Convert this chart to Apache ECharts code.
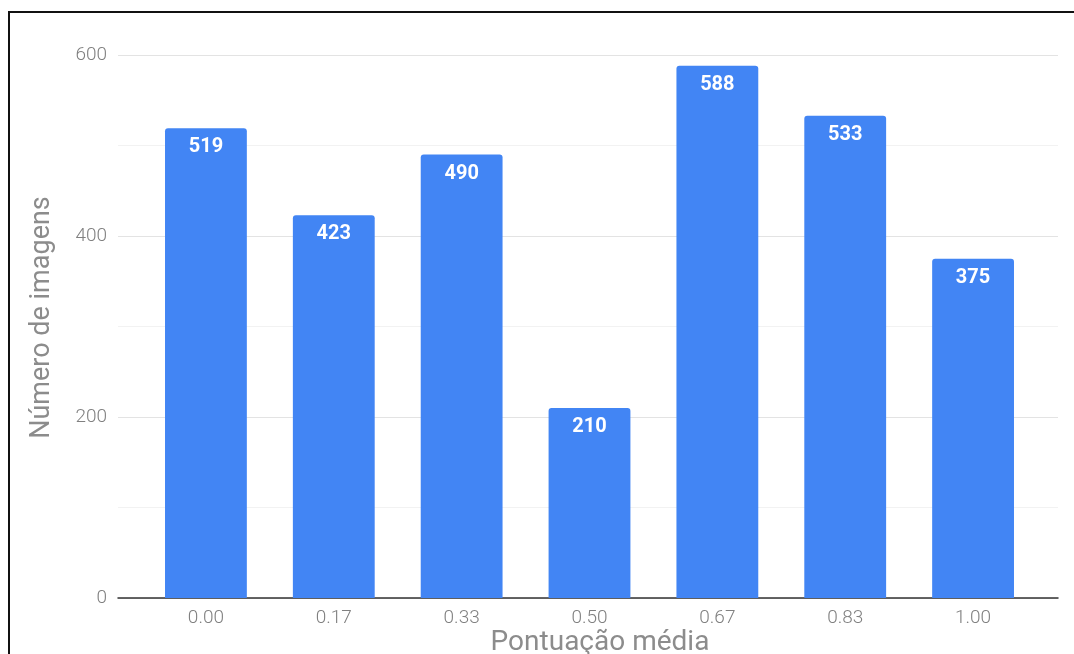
<!DOCTYPE html>
<html>
<head>
<meta charset="utf-8">
<script src="https://cdn.jsdelivr.net/npm/echarts@6/dist/echarts.min.js"></script>
<style>
  html, body { margin: 0; padding: 0; background: #fff; }
  #chart { width: 1074px; height: 654px; }
</style>
</head>
<body>
<div id="chart"></div>
<script>
// Average score buckets and image counts
const categories = ['0.00', '0.17', '0.33', '0.50', '0.67', '0.83', '1.00'];
const imageCounts = [519, 423, 490, 210, 588, 533, 375];
const yTicks = [0, 200, 400, 600];

const chart = echarts.init(document.getElementById('chart'), null, { renderer: 'canvas' });

const textGray = '#808080';
const fontFamily = 'Roboto, Arial, sans-serif';

const option = {
  animation: false,
  backgroundColor: '#ffffff',
  textStyle: { fontFamily: fontFamily },
  graphic: [{
    type: 'rect',
    shape: { x: 9, y: 12, width: 1200, height: 800 },
    style: { fill: 'none', stroke: '#111111', lineWidth: 2 },
    silent: true,
    z: 100
  }],
  grid: [
    // wide grid: gridlines, y labels, baseline
    { left: 118, right: 16, top: 55, bottom: 56, containLabel: false, outerBoundsMode: 'none' },
    // inner grid: the bars and their categories
    { left: 142, right: 37, top: 55, bottom: 56, containLabel: false, outerBoundsMode: 'none' }
  ],
  xAxis: [
    {
      gridIndex: 0,
      type: 'value',
      min: 0, max: 1,
      axisLabel: { show: false },
      axisTick: { show: false },
      splitLine: { show: false },
      axisLine: { show: true, lineStyle: { color: '#333333', width: 1.5 } },
      name: 'Pontuação média',
      nameLocation: 'middle',
      nameGap: 31,
      nameTextStyle: { fontSize: 28, color: '#8c8c8c', fontFamily: fontFamily, padding: [0, 0, 0, 24] }
    },
    {
      gridIndex: 1,
      type: 'category',
      data: categories,
      axisLine: { show: false },
      axisTick: { show: false },
      axisLabel: { fontSize: 19, color: textGray, margin: 11, fontWeight: 300, fontFamily: fontFamily }
    }
  ],
  yAxis: [
    {
      gridIndex: 0,
      type: 'value',
      min: yTicks[0],
      max: yTicks[yTicks.length - 1],
      interval: 200,
      axisLine: { show: false },
      axisTick: { show: false },
      axisLabel: { fontSize: 19, color: textGray, margin: 11, fontWeight: 300, fontFamily: fontFamily },
      splitLine: { show: true, lineStyle: { color: '#e3e3e3', width: 1 } },
      minorTick: { show: false, splitNumber: 2 },
      minorSplitLine: { show: true, lineStyle: { color: '#f2f2f2', width: 1 } },
      name: 'Número de imagens',
      nameLocation: 'middle',
      nameGap: 62,
      nameTextStyle: { fontSize: 27, color: '#8c8c8c', fontFamily: fontFamily, padding: [0, 0, 0, 18] }
    },
    {
      gridIndex: 1,
      type: 'value',
      min: yTicks[0],
      max: yTicks[yTicks.length - 1],
      show: false,
      splitLine: { show: false }
    }
  ],
  series: [{
    type: 'bar',
    xAxisIndex: 1,
    yAxisIndex: 1,
    data: imageCounts,
    barCategoryGap: '36%',
    z: 5,
    itemStyle: { color: '#4285F4', borderRadius: [3, 3, 0, 0] },
    label: {
      show: true,
      position: 'insideTop',
      distance: 9,
      color: '#ffffff',
      fontWeight: 'bold',
      fontSize: 20,
      fontFamily: fontFamily
    }
  }]
};

chart.setOption(option);
</script>
</body>
</html>
